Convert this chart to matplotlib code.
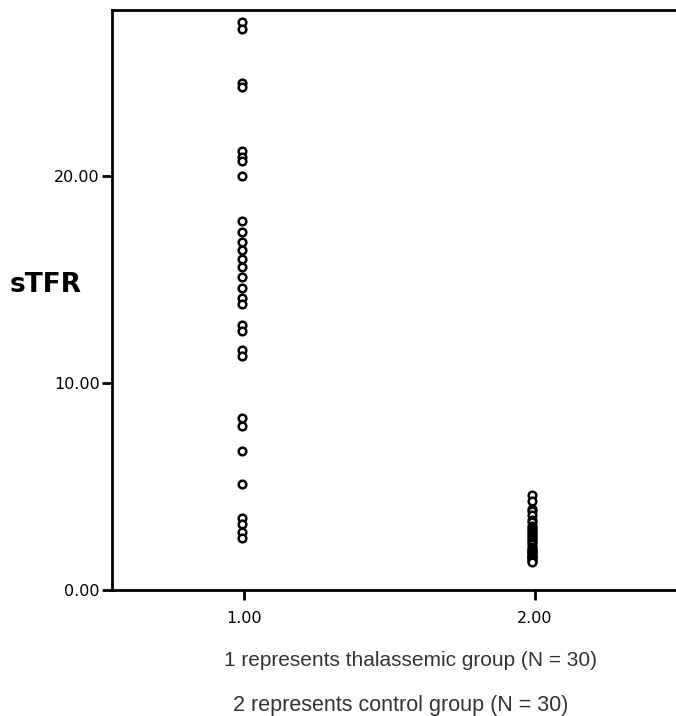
import matplotlib
matplotlib.use("Agg")
import matplotlib.pyplot as plt

# Data
group_labels = ["1.00", "2.00"]
group_positions = [1.0, 2.0]
thal_values = [27.4, 27.1, 24.5, 24.3, 21.2, 20.9, 20.7, 20.0,
               17.8, 17.3, 16.8, 16.4, 16.0, 15.6, 15.1, 14.6, 14.1, 13.8,
               12.8, 12.5, 11.6, 11.3, 8.3, 7.9, 6.7, 5.1,
               3.5, 3.2, 2.8, 2.5]
control_values = [4.6, 4.3, 3.9, 3.8, 3.6, 3.4, 3.3, 3.1, 3.0, 2.9,
                  2.8, 2.7, 2.6, 2.5, 2.4, 2.3, 2.2, 2.1, 2.0, 1.95,
                  1.9, 1.85, 1.8, 1.7, 1.65, 1.6, 1.55, 1.5, 1.4, 1.35]
y_ticks = [0, 10, 20]
y_tick_labels = ["0.00", "10.00", "20.00"]
caption_lines = ["1 represents thalassemic group (N = 30)",
                 "2 represents control group (N = 30)"]

fig = plt.figure(figsize=(6.76, 7.16), dpi=100)
ax = fig.add_axes([112/676, 1-590/716, 1-112/676 + 0.01, 580/716])

for xpos, vals in zip(group_positions, [thal_values, control_values]):
    ax.plot([xpos - 0.01]*len(vals), vals, linestyle="none", marker="o",
            markersize=5.5, mfc="white", mec="black", mew=1.8)

ax.set_xlim(0.544, 2.509)
ax.set_ylim(0, 28)
ax.set_xticks(group_positions)
ax.set_xticklabels(group_labels)
ax.set_yticks(y_ticks)
ax.set_yticklabels(y_tick_labels)
for s in ["left", "bottom", "top"]:
    ax.spines[s].set_linewidth(2)
ax.spines["right"].set_visible(False)
ax.tick_params(axis="both", length=7, width=2, labelsize=11.5, pad=2)
ax.tick_params(axis="x", pad=8)

fig.text(10/676, 1-285/716, "sTFR", fontsize=19, fontweight="bold",
         va="center", ha="left")
fig.text(410/676, 1-661/716, caption_lines[0], fontsize=15, color="#333333",
         family="Liberation Sans", ha="center", va="center")
fig.text(401/676, 1-705/716, caption_lines[1], fontsize=15.5, color="#333333",
         family="Liberation Sans", ha="center", va="center")

fig.savefig("out.png", dpi=100)
